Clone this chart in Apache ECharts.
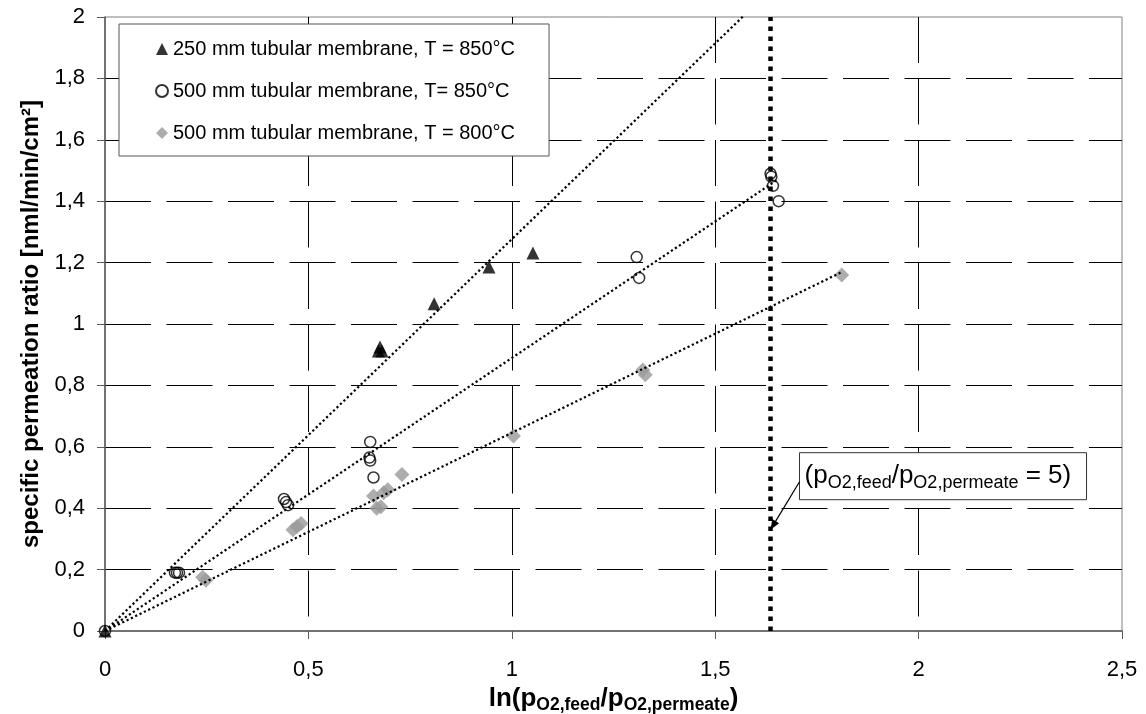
<!DOCTYPE html>
<html>
<head>
<meta charset="utf-8">
<script src="https://cdn.jsdelivr.net/npm/echarts@6/dist/echarts.min.js"></script>
<style>
  html, body { margin: 0; padding: 0; background: #fff; }
  #chart { width: 1146px; height: 714px; }
</style>
</head>
<body>
<div id="chart"></div>
<script>
// Measured points: [ln(pO2,feed/pO2,permeate), specific permeation ratio]
const tube250At850 = [[0, 0], [0.672, 0.912], [0.681, 0.912], [0.676, 0.925],
  [0.809, 1.066], [0.944, 1.186], [1.052, 1.231]];
const tube500At850 = [[0, 0], [0.172, 0.19], [0.177, 0.19], [0.182, 0.19],
  [0.44, 0.43], [0.445, 0.42], [0.45, 0.41],
  [0.652, 0.616], [0.65, 0.565], [0.652, 0.555], [0.66, 0.50],
  [1.307, 1.218], [1.313, 1.15],
  [1.636, 1.49], [1.638, 1.48], [1.642, 1.45], [1.656, 1.40]];
const tube500At800 = [[0.24, 0.175], [0.248, 0.165],
  [0.462, 0.33], [0.472, 0.34], [0.482, 0.35],
  [0.66, 0.44], [0.668, 0.40], [0.678, 0.405], [0.685, 0.45], [0.695, 0.46], [0.73, 0.51],
  [1.004, 0.635], [1.322, 0.85], [1.328, 0.835], [1.811, 1.16]];

const seriesNames = [
  '250 mm tubular membrane, T = 850°C',
  '500 mm tubular membrane, T= 850°C',
  '500 mm tubular membrane, T = 800°C'
];
// x where each dotted trend line stops
const trendEndX = [1.6, 1.656, 1.811];
// position of the pO2 ratio = 5 marker line
const ratioLineX = 1.636;
const arrowTipY = 0.33;

const FONT = '"Liberation Sans", Arial, sans-serif';
const comma = v => String(+(+v).toFixed(2)).replace('.', ',');

// least-squares line through the origin
function originSlope(pts) {
  let sxy = 0, sxx = 0;
  pts.forEach(([x, y]) => { sxy += x * y; sxx += x * x; });
  return sxy / sxx;
}
function trend(pts, endX) {
  const k = originSlope(pts);
  return [[0, 0], [endX, k * endX]];
}

const dottedTrend = (data) => ({
  type: 'line', data, symbol: 'none', silent: true, z: 5,
  lineStyle: { color: '#000', width: 2.2, type: [2.2, 2.6] }
});

const chart = echarts.init(document.getElementById('chart'), null, { renderer: 'canvas' });

chart.setOption({
  animation: false,
  backgroundColor: '#fff',
  textStyle: { fontFamily: FONT },
  grid: {
    left: 105, right: 24, top: 17, bottom: 83,
    outerBoundsMode: 'none', containLabel: false,
    show: true, borderColor: '#808080', borderWidth: 1
  },
  legend: {
    data: seriesNames,
    orient: 'vertical',
    left: 119, top: 24,
    padding: [14, 34, 12, 36],
    itemGap: 20,
    itemWidth: 12, itemHeight: 12,
    backgroundColor: '#fff',
    borderColor: '#555', borderWidth: 1,
    textStyle: { fontSize: 20, color: '#000', fontFamily: FONT, lineHeight: 22 }
  },
  xAxis: {
    type: 'value', min: 0, max: 2.5, interval: 0.5,
    name: '{m|ln(p}{s|O2,feed}{m|/p}{s|O2,permeate}{m|)}',
    nameLocation: 'middle', nameGap: 37,
    nameTextStyle: {
      rich: {
        m: { fontSize: 26, fontWeight: 'bold', fontFamily: FONT, color: '#000', lineHeight: 30 },
        s: { fontSize: 17.5, fontWeight: 'bold', fontFamily: FONT, color: '#000', lineHeight: 13, verticalAlign: 'bottom' }
      }
    },
    axisLine: { show: true, onZero: false, lineStyle: { color: '#595959', width: 1.5 } },
    axisTick: { show: true, length: 8, lineStyle: { color: '#595959' } },
    axisLabel: { fontSize: 22, color: '#000', margin: 28, formatter: comma },
    splitLine: { show: true, showMinLine: false, showMaxLine: false, lineStyle: { color: '#000', width: 1, type: [46, 15.5] } }
  },
  yAxis: {
    type: 'value', min: 0, max: 2, interval: 0.2,
    name: 'specific permeation ratio [nml/min/cm²]',
    nameLocation: 'middle', nameGap: 55,
    nameTextStyle: { fontSize: 24, fontWeight: 'bold', color: '#000', fontFamily: FONT },
    axisLine: { show: true, onZero: false, lineStyle: { color: '#595959', width: 1.5 } },
    axisTick: { show: true, length: 8, lineStyle: { color: '#595959' } },
    axisLabel: { fontSize: 22, color: '#000', margin: 20, formatter: comma },
    splitLine: { show: true, showMinLine: false, showMaxLine: false, lineStyle: { color: '#000', width: 1, type: [46, 15.5] } }
  },
  series: [
    {
      name: seriesNames[0], type: 'scatter', data: tube250At850,
      symbol: 'triangle', symbolSize: 13, z: 3,
      itemStyle: { color: '#000' }
    },
    {
      name: seriesNames[1], type: 'scatter', data: tube500At850,
      symbol: 'circle', symbolSize: 11, z: 4,
      itemStyle: { color: 'rgba(255,255,255,0)', borderColor: '#000', borderWidth: 1.5 }
    },
    {
      name: seriesNames[2], type: 'scatter', data: tube500At800,
      symbol: 'diamond', symbolSize: 15, z: 2,
      itemStyle: { color: '#999999' }
    },
    dottedTrend(trend(tube250At850, trendEndX[0])),
    dottedTrend(trend(tube500At850, trendEndX[1])),
    dottedTrend(trend(tube500At800, trendEndX[2])),
    {
      type: 'line', data: [[ratioLineX, 0], [ratioLineX, 2]], symbol: 'none', silent: true, z: 6,
      lineStyle: { color: '#000', width: 4.5, type: [4.5, 5.5] }
    }
  ]
});

// annotation box with arrow pointing at the ratio line
const tip = chart.convertToPixel({ gridIndex: 0 }, [ratioLineX, arrowTipY]);
const boxX = tip[0] + 29, boxY = tip[1] - 77, boxW = 287, boxH = 47;
const startX = boxX, startY = tip[1] - 48;
const dx = tip[0] - startX, dy = tip[1] - startY, len = Math.hypot(dx, dy);
const ux = dx / len, uy = dy / len, nx = -uy, ny = ux;
const headL = 10, headW = 4;

chart.setOption({
  graphic: [
    {
      type: 'rect', z: 20,
      shape: { x: boxX, y: boxY, width: boxW, height: boxH },
      style: { fill: '#fff', stroke: '#333', lineWidth: 1 }
    },
    {
      type: 'text', z: 21,
      x: boxX + 5, y: boxY + boxH / 2,
      style: {
        text: '{m|(p}{s|O2,feed}{m|/p}{s|O2,permeate}{m| = 5)}',
        verticalAlign: 'middle', align: 'left',
        rich: {
          m: { fontSize: 26, fontFamily: FONT, fill: '#000', lineHeight: 32 },
          s: { fontSize: 18, fontFamily: FONT, fill: '#000', lineHeight: 14, verticalAlign: 'bottom' }
        }
      }
    },
    {
      type: 'line', z: 20,
      shape: { x1: startX, y1: startY, x2: tip[0] - ux * headL * 0.8, y2: tip[1] - uy * headL * 0.8 },
      style: { stroke: '#000', lineWidth: 1.2 }
    },
    {
      type: 'polygon', z: 20,
      shape: {
        points: [
          [tip[0], tip[1]],
          [tip[0] - ux * headL + nx * headW, tip[1] - uy * headL + ny * headW],
          [tip[0] - ux * headL - nx * headW, tip[1] - uy * headL - ny * headW]
        ]
      },
      style: { fill: '#000' }
    }
  ]
});
</script>
</body>
</html>
